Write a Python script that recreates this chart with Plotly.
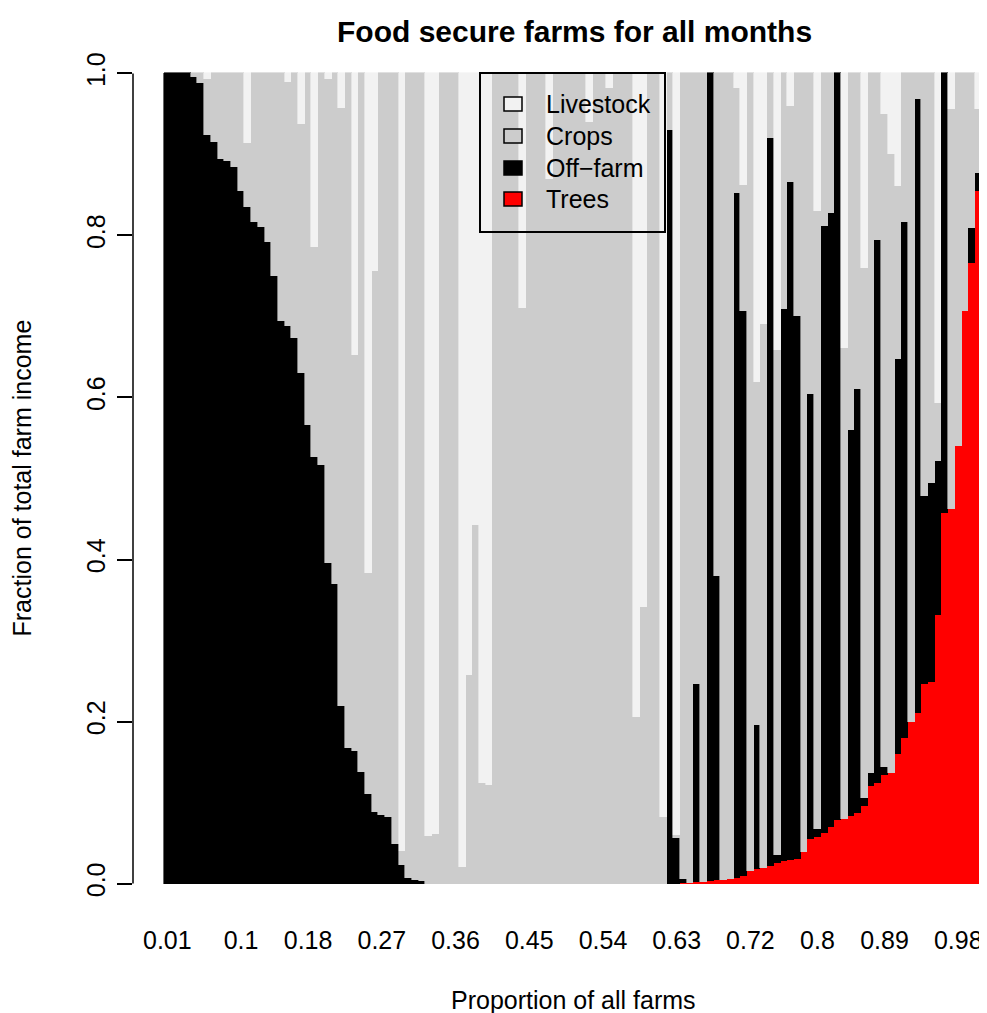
import plotly.graph_objects as go

# ---- data (fractions of total farm income per farm, 122 farms) ----
trees = [0, 0, 0, 0, 0, 0, 0, 0, 0, 0,
         0, 0, 0, 0, 0, 0, 0, 0, 0, 0,
         0, 0, 0, 0, 0, 0, 0, 0, 0, 0,
         0, 0, 0, 0, 0, 0, 0, 0, 0, 0,
         0, 0, 0, 0, 0, 0, 0, 0, 0, 0,
         0, 0, 0, 0, 0, 0, 0, 0, 0, 0,
         0, 0, 0, 0, 0, 0, 0, 0, 0, 0,
         0, 0, 0, 0, 0, 0, 0, 0.001, 0.001, 0.002,
         0.002, 0.003, 0.004, 0.005, 0.006, 0.007, 0.009, 0.016, 0.018, 0.019,
         0.022, 0.025, 0.028, 0.029, 0.030, 0.039, 0.055, 0.058, 0.063, 0.070,
         0.079, 0.080, 0.083, 0.087, 0.096, 0.121, 0.124, 0.134, 0.137, 0.160,
         0.180, 0.200, 0.210, 0.246, 0.249, 0.331, 0.458, 0.462, 0.540, 0.707,
         0.766, 0.855]
off_farm = [1.000, 1.000, 1.000, 1.000, 0.995, 0.988, 0.924, 0.915, 0.894, 0.892,
            0.884, 0.855, 0.835, 0.817, 0.810, 0.792, 0.750, 0.694, 0.688, 0.673,
            0.630, 0.566, 0.527, 0.517, 0.396, 0.370, 0.219, 0.167, 0.164, 0.138,
            0.111, 0.088, 0.085, 0.082, 0.049, 0.023, 0.007, 0.005, 0.003, 0,
            0, 0, 0, 0, 0, 0, 0, 0, 0, 0,
            0, 0, 0, 0, 0, 0, 0, 0, 0, 0,
            0, 0, 0, 0, 0, 0, 0, 0, 0, 0,
            0, 0, 0, 0, 0, 0.930, 0.056, 0.005, 0, 0.244,
            0, 0.997, 0.376, 0, 0, 0.846, 0.698, 0, 0.178, 0,
            0.898, 0.010, 0.681, 0.837, 0.670, 0, 0.549, 0.010, 0.749, 0.758,
            0.921, 0, 0.477, 0.524, 0.010, 0.016, 0.670, 0.010, 0, 0.487,
            0.637, 0, 0.759, 0.232, 0.245, 0.190, 0.542, 0, 0, 0,
            0.043, 0.022]
crops = [0, 0, 0, 0, 0.005, 0.012, 0.069, 0.085, 0.106, 0.108,
         0.116, 0.145, 0.079, 0.183, 0.190, 0.208, 0.250, 0.306, 0.301, 0.327,
         0.308, 0.434, 0.259, 0.483, 0.597, 0.630, 0.738, 0.833, 0.489, 0.862,
         0.272, 0.668, 0.915, 0.918, 0.951, 0.017, 0.993, 0.995, 0.997, 0.059,
         0.061, 1, 1, 1, 0.020, 0.257, 0.442, 0.124, 0.122, 1,
         1, 1, 1, 0.711, 1, 1, 1, 0.870, 1, 1,
         1, 1, 1, 0.940, 1, 1, 0.982, 1, 1, 1,
         0.206, 0.341, 1, 1, 0.082, 0.070, 0.004, 0.994, 0.999, 0.754,
         0.998, 0, 0.620, 0.995, 0.994, 0.129, 0.155, 0.984, 0.423, 0.672,
         0.080, 0.623, 0.291, 0.094, 0.300, 0.961, 0.396, 0.762, 0.188, 0.172,
         0, 0.581, 0.440, 0.389, 0.654, 0.863, 0.206, 0.806, 0.763, 0.214,
         0.183, 0.800, 0.031, 0.522, 0.506, 0.072, 0, 0.494, 0.460, 0.293,
         0.191, 0.079]
livestock = [0, 0, 0, 0, 0, 0, 0.007, 0, 0, 0,
             0, 0, 0.086, 0, 0, 0, 0, 0, 0.011, 0,
             0.062, 0, 0.214, 0, 0.007, 0, 0.043, 0, 0.347, 0,
             0.617, 0.244, 0, 0, 0, 0.960, 0, 0, 0, 0.941,
             0.939, 0, 0, 0, 0.980, 0.743, 0.558, 0.876, 0.878, 0,
             0, 0, 0, 0.289, 0, 0, 0, 0.130, 0, 0,
             0, 0, 0, 0.060, 0, 0, 0.018, 0, 0, 0,
             0.794, 0.659, 0, 0, 0.918, 0, 0.940, 0, 0, 0,
             0, 0, 0, 0, 0, 0.018, 0.138, 0, 0.381, 0.309,
             0, 0.342, 0, 0.040, 0, 0, 0, 0.170, 0, 0,
             0, 0.339, 0, 0, 0.240, 0, 0, 0.050, 0.100, 0.139,
             0, 0, 0, 0, 0, 0.407, 0, 0.044, 0, 0,
             0, 0.044]

farm_index = list(range(1, 123))
xlabel_pos = [1, 12, 22, 33, 44, 55, 66, 77, 88, 98, 108, 119]
xlabels = ["0.01", "0.1", "0.18", "0.27", "0.36", "0.45", "0.54", "0.63",
           "0.72", "0.8", "0.89", "0.98"]
yticks = [0, 0.2, 0.4, 0.6, 0.8, 1.0]
ylabels = ["0.0", "0.2", "0.4", "0.6", "0.8", "1.0"]

series = [("Trees", trees, "#FF0000"),
          ("Off-farm", off_farm, "#000000"),
          ("Crops", crops, "#CCCCCC"),
          ("Livestock", livestock, "#F2F2F2")]

# ---- layout geometry (pixels; page body has an 8px margin) ----
OFF = 8
W, H = 987 - OFF, 1013 - OFF
ML, MR, MT, MB = 133 - OFF, 5, 41 - OFF, 97
PW, PH = W - ML - MR, H - MT - MB


def px(xp):
    return (xp - OFF - ML) / PW


def py(yp):
    return (H - MB - (yp - OFF)) / PH


FONT = "Liberation Sans, Arial, sans-serif"

fig = go.Figure()
for name, vals, col in series:
    fig.add_trace(go.Bar(
        x=farm_index,
        y=[v if v > 0 else None for v in vals],
        name=name, width=1,
        marker=dict(color=col, line=dict(color=col, width=0.6)),
        showlegend=False, hoverinfo="skip"))

shapes = [dict(type="line", xref="paper", yref="y", x0=0, x1=0, y0=0, y1=1,
               line=dict(color="black", width=1.5))]
annotations = [
    dict(text="<b>Food secure farms for all months</b>", xref="paper", yref="paper",
         x=px(574), y=py(31), xanchor="center", yanchor="middle", showarrow=False,
         font=dict(family=FONT, size=30, color="black")),
    dict(text="Proportion of all farms", xref="paper", yref="paper",
         x=px(573), y=py(1000), xanchor="center", yanchor="middle", showarrow=False,
         font=dict(family=FONT, size=25, color="black")),
    dict(text="Fraction of total farm income", xref="paper", yref="paper",
         x=px(21), y=0.5, xanchor="center", yanchor="middle", textangle=-90,
         showarrow=False, font=dict(family=FONT, size=25, color="black")),
]

# legend drawn manually (R style box)
shapes.append(dict(type="rect", xref="paper", yref="paper",
                   x0=px(480), x1=px(665), y0=py(232), y1=py(73),
                   line=dict(color="black", width=2), fillcolor="rgba(0,0,0,0)"))
legend_rows = [("Livestock", "#F2F2F2", 104), ("Crops", "#CCCCCC", 136),
               ("Off\u2212farm", "#000000", 168), ("Trees", "#FF0000", 199)]
for label, col, yc in legend_rows:
    shapes.append(dict(type="rect", xref="paper", yref="paper",
                       x0=px(504), x1=px(522), y0=py(yc + 7), y1=py(yc - 7),
                       line=dict(color="black", width=1.5), fillcolor=col))
    annotations.append(dict(text=label, xref="paper", yref="paper",
                            x=px(544), y=py(yc), xanchor="left", yanchor="middle",
                            showarrow=False,
                            font=dict(family=FONT, size=25, color="black")))

fig.update_layout(
    width=W, height=H,
    margin=dict(l=ML, r=MR, t=MT, b=MB, pad=0),
    barmode="stack", bargap=0,
    plot_bgcolor="white", paper_bgcolor="white",
    font=dict(family=FONT, size=25, color="black"),
    shapes=shapes, annotations=annotations,
    xaxis=dict(range=[-4.12, 122.55], tickvals=xlabel_pos, ticktext=xlabels,
               showgrid=False, zeroline=False, showline=False, ticks="",
               ticklabelstandoff=7, tickfont=dict(family=FONT, size=25)),
    yaxis=dict(range=[-0.04, 1.04], tickvals=yticks, ticktext=ylabels,
               showgrid=False, zeroline=False, showline=False,
               ticks="outside", ticklen=15, tickwidth=1.5, tickcolor="black",
               tickangle=-90, ticklabelstandoff=2,
               tickfont=dict(family=FONT, size=25)),
)

fig.write_html("out.html", config={"displayModeBar": False})
